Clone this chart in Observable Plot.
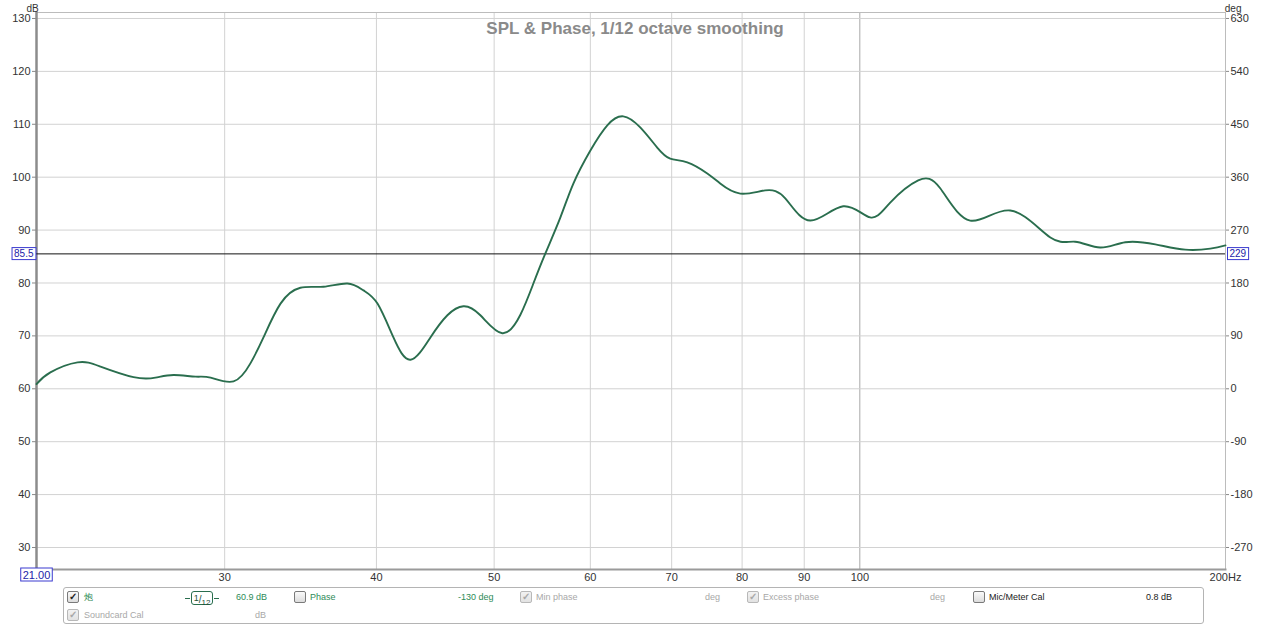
<!DOCTYPE html>
<html>
<head>
<meta charset="utf-8">
<script src="https://cdn.jsdelivr.net/npm/d3@7"></script>
<script src="https://cdn.jsdelivr.net/npm/@observablehq/plot@0.6"></script>
<style>
  html, body { margin: 0; padding: 0; background: #fff; }
  body { width: 1269px; height: 627px; position: relative; overflow: hidden; font-family: "Liberation Sans", Arial, sans-serif; }
  #chart { position: absolute; left: 0; top: 0; }
  #legend { position: absolute; left: 63px; top: 587px; width: 1141px; height: 37px; border: 1px solid #b4b4b4; border-radius: 3px; box-sizing: border-box; font-size: 9px; }
  .it { position: absolute; white-space: nowrap; line-height: 11px; }
  .cb { position: absolute; width: 10px; height: 10px; border: 1px solid #7a7a7a; border-radius: 2px; background: linear-gradient(#fafafa, #dcdcdc); font-size: 10px; line-height: 10px; text-align: center; color: #222; font-weight: bold; }
  .cb.dis { border-color: #b8b8b8; color: #a8a8a8; background: linear-gradient(#f2f2f2, #e2e2e2); }
  .green { color: #2e8b57; }
  .grey { color: #a8a8a8; }
  .dark { color: #222; }
  .smooth { position: absolute; left: 127px; top: 3px; width: 20px; height: 12px; border: 1.5px solid #2a6e4e; border-radius: 3px; color: #1f4f38; font-size: 10px; line-height: 12px; text-align: center; }
  .smooth:before, .smooth:after { content: ""; position: absolute; top: 6px; width: 5px; border-top: 1.5px solid #2a6e4e; }
  .smooth:before { left: -7px; }
  .smooth:after { right: -7px; }
</style>
</head>
<body>
<div id="chart"></div>
<div id="legend">
  <div class="cb" style="left:3px;top:3px">✓</div><div class="it green" style="left:20px;top:4px">炮</div>
  <div class="smooth"><span style="font-size:9px;vertical-align:2px">1</span>/<span style="font-size:8px;vertical-align:-2px">12</span></div>
  <div class="it green" style="left:172px;top:4px">60.9 dB</div>
  <div class="cb" style="left:230px;top:3px"></div><div class="it green" style="left:246px;top:4px">Phase</div>
  <div class="it green" style="left:394px;top:4px">-130 deg</div>
  <div class="cb dis" style="left:456px;top:3px">✓</div><div class="it grey" style="left:472px;top:4px">Min phase</div>
  <div class="it grey" style="left:641px;top:4px">deg</div>
  <div class="cb dis" style="left:683px;top:3px">✓</div><div class="it grey" style="left:699px;top:4px">Excess phase</div>
  <div class="it grey" style="left:866px;top:4px">deg</div>
  <div class="cb" style="left:909px;top:3px"></div><div class="it dark" style="left:925px;top:4px">Mic/Meter Cal</div>
  <div class="it dark" style="left:1082px;top:4px">0.8 dB</div>
  <div class="cb dis" style="left:3px;top:21px">✓</div><div class="it grey" style="left:20px;top:22px">Soundcard Cal</div>
  <div class="it grey" style="left:191px;top:22px">dB</div>
</div>
<script>
// ---- data ----
const freqs = [21.0, 21.56, 22.70, 23.71, 25.24, 26.31, 27.23, 28.39, 29.21, 30.51, 31.50, 32.29, 33.35, 34.63, 36.18, 37.86, 39.03, 40.08, 41.31, 42.67, 44.31, 45.76, 47.17, 48.71, 50.78, 52.55, 53.86, 55.10, 56.69, 58.10, 59.99, 61.96, 63.86, 65.95, 68.11, 69.81, 72.10, 74.89, 76.75, 79.72, 83.58, 86.82, 91.03, 96.90, 101.99, 105.93, 111.70, 116.46, 123.27, 133.0, 143.5, 150.4, 157.7, 165.4, 175.1, 185.3, 194.3, 200.0];
const spl = [60.9, 63.1, 65.0, 64.2, 62.2, 62.1, 62.6, 62.3, 62.1, 61.4, 64.8, 69.7, 76.1, 79.1, 79.3, 79.9, 78.6, 76.1, 69.7, 65.5, 69.7, 73.9, 75.6, 73.9, 70.5, 74.0, 79.9, 85.6, 92.4, 98.8, 105.0, 109.8, 111.5, 109.4, 105.6, 103.5, 102.8, 100.7, 98.8, 96.9, 97.5, 96.0, 91.8, 94.5, 92.4, 95.2, 99.4, 97.9, 91.8, 93.7, 88.6, 87.8, 86.7, 87.7, 87.3, 86.3, 86.5, 87.1];
const xTicks = [30, 40, 50, 60, 70, 80, 90, 100, 200];
const xMinorGrid = [30, 40, 50, 60, 70, 80, 90];
const xMajorGrid = [100];
const dbTicks = [30, 40, 50, 60, 70, 80, 90, 100, 110, 120, 130];
const cursorDb = [85.5];
const cursorFreq = [21];
const title = ["SPL & Phase, 1/12 octave smoothing"];

const rows = freqs.map((f, i) => ({f, db: spl[i]}));
const toDeg = d => Math.round((d - 60) * 9);

const font = "'Liberation Sans', Arial, sans-serif";
const curveColor = "#2a6e4e";

const plot = Plot.plot({
  width: 1269,
  height: 587,
  marginLeft: 36,
  marginRight: 44,
  marginTop: 12,
  marginBottom: 18,
  style: {fontFamily: font, fontSize: "11px", color: "#333", background: "#fff", overflow: "visible"},
  x: {type: "log", domain: [21, 200]},
  y: {domain: [25.84, 131.13]},
  marks: [
    Plot.gridX(xMinorGrid, {stroke: "#d2d2d2", strokeOpacity: 1}),
    Plot.gridX(xMajorGrid, {stroke: "#a8a8a8", strokeOpacity: 1}),
    Plot.gridY(dbTicks, {stroke: "#d2d2d2", strokeOpacity: 1}),
    Plot.frame({stroke: "#bcbcbc"}),
    Plot.frame({anchor: "left", stroke: "#8c8c8c", strokeWidth: 2.5}),
    Plot.frame({anchor: "bottom", stroke: "#9a9a9a", strokeWidth: 2}),
    Plot.ruleY(cursorDb, {stroke: "#111", strokeWidth: 1}),
    Plot.line(rows, {x: "f", y: "db", curve: "natural", stroke: curveColor, strokeWidth: 1.9}),
    Plot.axisY(dbTicks, {anchor: "left", tickSize: 4, tickPadding: 2, label: null, fill: "#333", stroke: "#888"}),
    Plot.axisY(dbTicks, {anchor: "right", tickSize: 3, tickPadding: 2, label: null, tickFormat: toDeg, fill: "#333", stroke: "#888"}),
    Plot.axisX(xTicks, {anchor: "bottom", tickSize: 0, tickPadding: 4, label: null, tickFormat: d => d === 200 ? "200Hz" : String(d), fill: "#333"}),
    Plot.text(["dB"], {frameAnchor: "top-left", dx: -10, dy: -8, fill: "#333", fontSize: 10}),
    Plot.text(["deg"], {frameAnchor: "top-right", dx: 16, dy: -8, fill: "#333", fontSize: 10}),
    Plot.text(title, {frameAnchor: "top", dx: 4, dy: 9, fill: "#8a8a8a", fontSize: 17, fontWeight: "bold"}),
    Plot.text(cursorDb, {y: d => d, frameAnchor: "left", dx: -3, textAnchor: "end", text: d => d.toFixed(1), fill: "#2323a8", fontSize: 10}),
    Plot.text(cursorDb, {y: d => d, frameAnchor: "right", dx: 4, textAnchor: "start", text: d => String(Math.floor((d - 60) * 9)), fill: "#2323a8", fontSize: 10}),
    Plot.text(cursorFreq, {x: d => d, frameAnchor: "bottom", dy: 9, text: d => d.toFixed(2), fill: "#2323a8", fontSize: 11})
  ]
});
document.getElementById("chart").appendChild(plot);

// boxes around cursor readouts
const svg = plot.tagName.toLowerCase() === "svg" ? plot : plot.querySelector("svg");
const targets = ["85.5", "229", "21.00"];
svg.querySelectorAll("text").forEach(t => {
  const g = t.closest("g");
  const isCursor = t.getAttribute("fill") === "#2323a8" || (g && g.getAttribute("fill") === "#2323a8");
  if (targets.includes(t.textContent) && isCursor) {
    const b = t.getBBox();
    const r = document.createElementNS("http://www.w3.org/2000/svg", "rect");
    r.setAttribute("x", b.x - 2);
    r.setAttribute("y", b.y - 0.5);
    r.setAttribute("width", b.width + 4);
    r.setAttribute("height", b.height + 1);
    r.setAttribute("fill", "#fff");
    r.setAttribute("stroke", "#3a3ad0");
    r.setAttribute("stroke-width", 1);
    if (t.getAttribute("transform")) r.setAttribute("transform", t.getAttribute("transform"));
    t.parentNode.insertBefore(r, t);
  }
});
</script>
</body>
</html>
